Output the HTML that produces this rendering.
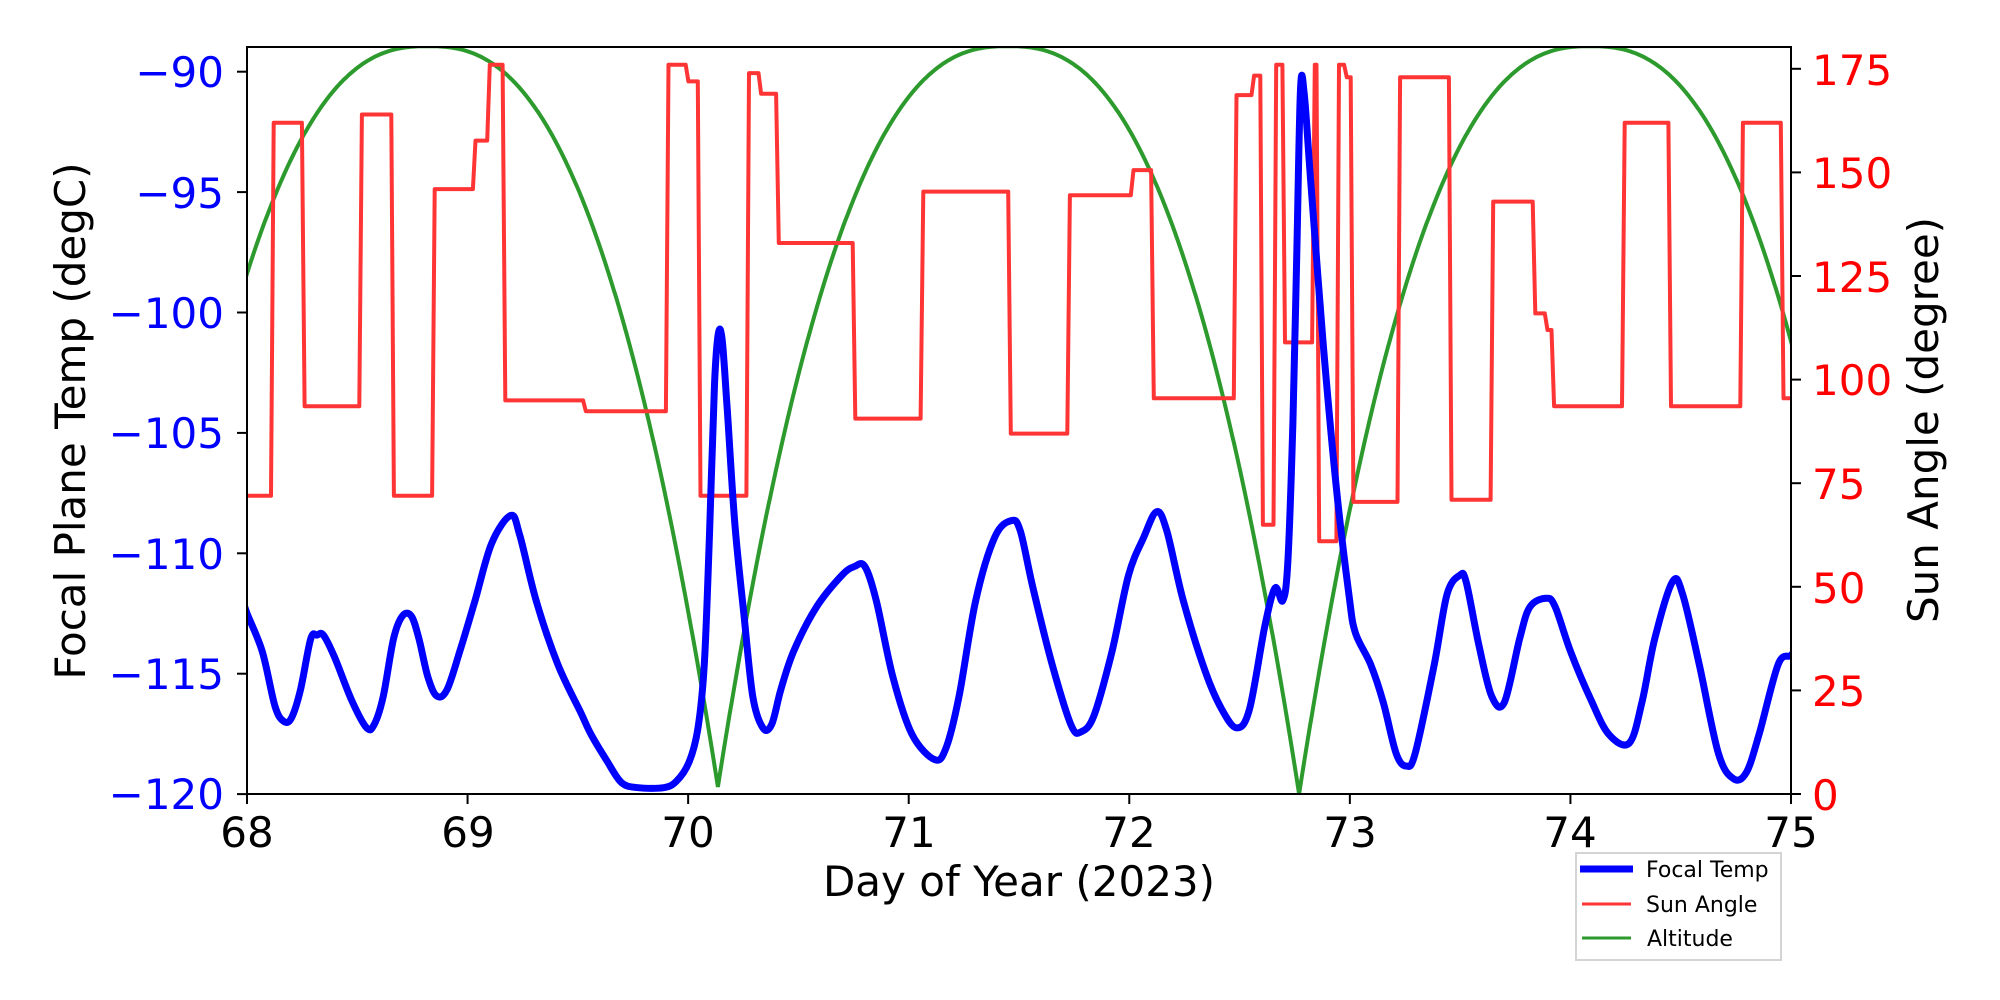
<!DOCTYPE html>
<html><head><meta charset="utf-8"><style>
html,body{margin:0;padding:0;background:#fff;}
svg{display:block;font-family:"DejaVu Sans","Liberation Sans",sans-serif;}
</style></head><body>
<svg id="s" width="2000" height="1000" viewBox="0 0 2000 1000" xmlns="http://www.w3.org/2000/svg">
<defs><clipPath id="c"><rect x="247" y="47" width="1544" height="747"/></clipPath></defs>
<rect width="2000" height="1000" fill="#fff"/>
<g clip-path="url(#c)">
<path id="green" fill="none" stroke="#2d9a2d" stroke-width="4"/>
<path id="red" fill="none" stroke="#ff3535" stroke-width="4" stroke-linejoin="round"/>
<path id="blue" fill="none" stroke="#0000ff" stroke-width="7" stroke-linejoin="round" stroke-linecap="round"/>
</g>
<rect x="247" y="47" width="1544" height="747" fill="none" stroke="#000" stroke-width="2"/>
<g id="ticks" stroke="#000" stroke-width="2"></g>
<g font-size="42" fill="#0000ff" text-anchor="end">
<text x="224" y="87">−90</text><text x="224" y="208">−95</text><text x="224" y="328">−100</text>
<text x="224" y="448">−105</text><text x="224" y="569">−110</text><text x="224" y="689">−115</text><text x="224" y="809">−120</text>
</g>
<g font-size="42" fill="#ff0000" text-anchor="start">
<text x="1812" y="85">175</text><text x="1812" y="188">150</text><text x="1812" y="292">125</text>
<text x="1812" y="395">100</text><text x="1812" y="499">75</text><text x="1812" y="603">50</text>
<text x="1812" y="706">25</text><text x="1812" y="810">0</text>
</g>
<g font-size="42" fill="#000" text-anchor="middle">
<text x="247" y="847">68</text><text x="468" y="847">69</text><text x="688" y="847">70</text><text x="909" y="847">71</text>
<text x="1129" y="847">72</text><text x="1350" y="847">73</text><text x="1570" y="847">74</text><text x="1791" y="847">75</text>
<text x="1019" y="896">Day of Year (2023)</text>
<text transform="translate(85,421) rotate(-90)">Focal Plane Temp (degC)</text>
<text transform="translate(1938,420) rotate(-90)">Sun Angle (degree)</text>
</g>
<rect x="1576" y="853" width="205" height="107" fill="#fff" stroke="#d4d4d4" stroke-width="2"/>
<line x1="1580" y1="869" x2="1633" y2="869" stroke="#0000ff" stroke-width="7"/>
<line x1="1582" y1="904" x2="1631" y2="904" stroke="#ff3535" stroke-width="3"/>
<line x1="1582" y1="938" x2="1631" y2="938" stroke="#2d9a2d" stroke-width="3"/>
<g font-size="22" fill="#000"><text x="1646" y="877">Focal Temp</text><text x="1646" y="912">Sun Angle</text><text x="1647" y="946">Altitude</text></g>
</svg>
<script>
var X=function(d){return 247+(d-68)*220.57;};
var YR=function(v){return 794-v*4.143;};
var t='';
for(var i=0;i<7;i++){var y=71.7+i*120.4;t+='<line x1="237" y1="'+y+'" x2="247" y2="'+y+'"/>';}
for(var i=0;i<8;i++){var y=794-i*103.6;t+='<line x1="1791" y1="'+y+'" x2="1801" y2="'+y+'"/>';}
for(var i=0;i<8;i++){var x=X(68+i);t+='<line x1="'+x+'" y1="794" x2="'+x+'" y2="804"/>';}
document.getElementById('ticks').innerHTML=t;
var peaks=[68.82,71.45,74.09],g='';
for(var d=67.9;d<=75.1;d+=0.005){
 var best=1e9;for(var k=0;k<3;k++){var q=Math.abs(d-peaks[k]);if(q<best){best=q;}}
 var r=Math.min(1,best/1.32);var v=180.5*(1-Math.pow(r,2.5));
 g+=(g?'L':'M')+X(d).toFixed(1)+' '+YR(v).toFixed(1);
}
document.getElementById('green').setAttribute('d',g);
var seg=[[68.0,72],[68.115,162],[68.255,93.6],[68.515,164],[68.66,72],[68.845,146],[69.03,157.7],[69.095,176],[69.165,95],[69.53,92.4],[69.905,176],[69.995,172],[70.05,72],[70.27,174],[70.325,169],[70.405,133],[70.752,90.6],[71.06,145.4],[71.457,87],[71.725,144.5],[72.013,150.6],[72.105,95.5],[72.48,168.7],[72.56,173.4],[72.60,65],[72.66,176],[72.70,109],[72.835,176],[72.855,61],[72.945,176],[72.98,173],[73.01,70.5],[73.222,173],[73.455,71],[73.644,143],[73.835,116],[73.89,112],[73.92,93.6],[74.24,162],[74.45,93.6],[74.776,162],[74.96,95.5]];
var r='M'+X(67.9)+' '+YR(72);
for(var i=1;i<seg.length;i++){var d=seg[i][0];
 r+='L'+X(d-0.006).toFixed(1)+' '+YR(seg[i-1][1]).toFixed(1)+'L'+X(d+0.006).toFixed(1)+' '+YR(seg[i][1]).toFixed(1);}
r+='L'+X(75.1)+' '+YR(95.5);
document.getElementById('red').setAttribute('d',r);
var b=[[190,470],[193,480],[205,510],[215,553],[222,565],[228,562],[235,540],[243,500],[248,497],[253,497],[262,515],[275,548],[287,570],[293,567],[300,545],[308,500],[315,482],[322,482],[328,500],[335,530],[342,545],[350,540],[360,510],[372,470],[385,425],[400,403],[407,418],[420,470],[437,520],[455,558],[463,575],[475,595],[487,613],[500,617],[520,617],[530,612],[540,597],[547,570],[552,520],[556,420],[560,300],[563,260],[566,265],[570,320],[576,410],[583,480],[590,545],[598,570],[605,567],[612,540],[622,510],[640,475],[660,450],[670,443],[678,443],[687,470],[700,530],[715,575],[733,595],[742,585],[752,545],[765,470],[780,420],[793,407],[800,415],[810,460],[825,520],[840,568],[848,573],[858,560],[872,510],[885,450],[897,420],[907,400],[915,415],[928,470],[945,525],[958,555],[970,570],[980,555],[992,490],[1000,460],[1006,470],[1010,440],[1014,330],[1017,200],[1020,68],[1023,72],[1028,140],[1038,270],[1048,380],[1058,465],[1063,495],[1075,520],[1085,550],[1095,590],[1103,600],[1110,590],[1125,520],[1135,465],[1145,450],[1150,455],[1160,505],[1170,545],[1180,550],[1192,500],[1200,475],[1213,468],[1220,475],[1232,510],[1248,548],[1262,575],[1278,582],[1288,550],[1298,500],[1312,455],[1320,465],[1333,520],[1348,590],[1360,610],[1370,605],[1380,575],[1395,520],[1405,513],[1410,505]];
var P=b.map(function(p){return [247+(p[0]-193)*1.2739,71.7+(p[1]-54)*1.2717];});
var s='M'+P[0][0].toFixed(1)+' '+P[0][1].toFixed(1);
for(var i=0;i<P.length-1;i++){
 var p0=P[Math.max(0,i-1)],p1=P[i],p2=P[i+1],p3=P[Math.min(P.length-1,i+2)];
 var c1=[p1[0]+(p2[0]-p0[0])/6,p1[1]+(p2[1]-p0[1])/6],c2=[p2[0]-(p3[0]-p1[0])/6,p2[1]-(p3[1]-p1[1])/6];
 s+='C'+c1[0].toFixed(1)+' '+c1[1].toFixed(1)+' '+c2[0].toFixed(1)+' '+c2[1].toFixed(1)+' '+p2[0].toFixed(1)+' '+p2[1].toFixed(1);
}
document.getElementById('blue').setAttribute('d',s);
</script>
</body></html>
